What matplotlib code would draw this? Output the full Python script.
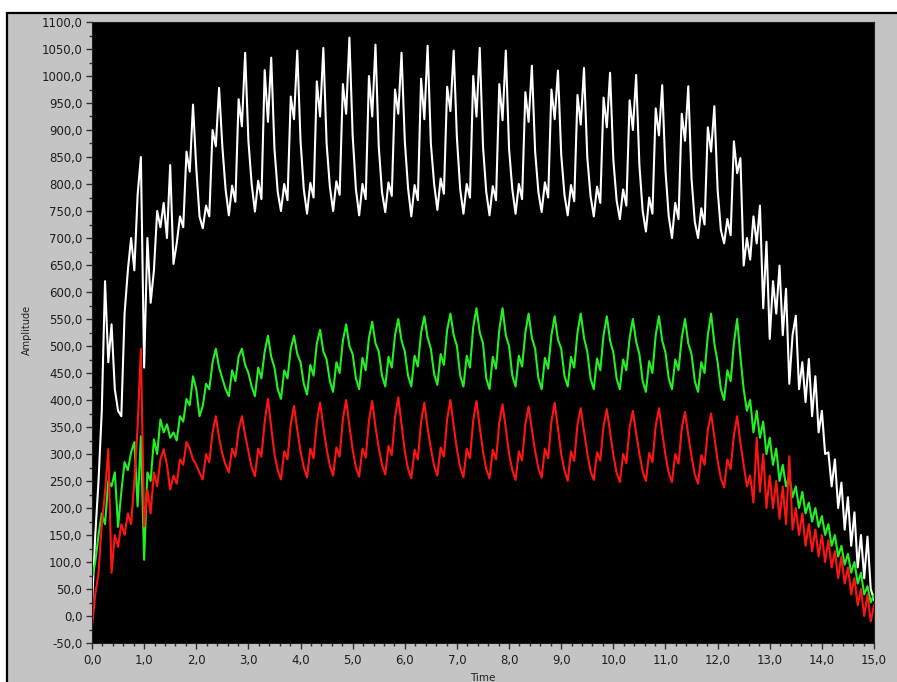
import numpy as np
import matplotlib
matplotlib.use('Agg')
import matplotlib.pyplot as plt
from matplotlib.patches import Rectangle
from matplotlib.ticker import MultipleLocator, FuncFormatter

# samples every 0.0625 s, one row = one 0.5 s cycle
time = np.linspace(0.0, 15.0, 241)

white = [
    20, 150, 250, 380, 620, 470, 540, 420,       # 0.0
    380, 370, 560, 640, 700, 640, 780, 850,      # 0.5
    460, 700, 580, 640, 750, 720, 765, 700,      # 1.0
    835, 652, 690, 740, 720, 860, 823, 947,      # 1.5
    830, 740, 718, 760, 740, 900, 870, 978,      # 2.0
    870, 790, 742, 797, 767, 957, 907, 1043,     # 2.5
    880, 800, 749, 806, 772, 1011, 915, 1034,    # 3.0
    865, 785, 750, 800, 770, 962, 920, 1047,     # 3.5
    880, 790, 745, 802, 775, 990, 925, 1052,     # 4.0
    875, 795, 750, 805, 780, 985, 930, 1071,     # 4.5
    890, 790, 742, 800, 772, 1000, 925, 1058,    # 5.0
    870, 785, 748, 803, 778, 975, 930, 1043,     # 5.5
    880, 792, 740, 798, 770, 995, 920, 1056,     # 6.0
    875, 800, 752, 810, 782, 980, 935, 1047,     # 6.5
    885, 790, 745, 800, 775, 1000, 925, 1052,    # 7.0
    870, 785, 742, 796, 770, 985, 918, 1047,     # 7.5
    865, 790, 745, 800, 772, 970, 915, 1019,     # 8.0
    860, 785, 748, 803, 775, 975, 920, 1010,     # 8.5
    855, 780, 742, 798, 768, 965, 910, 1015,     # 9.0
    850, 778, 740, 795, 765, 960, 905, 1006,     # 9.5
    845, 770, 735, 790, 760, 955, 900, 1002,     # 10.0
    835, 750, 712, 775, 745, 940, 890, 983,      # 10.5
    825, 740, 700, 765, 735, 930, 880, 981,      # 11.0
    810, 730, 700, 755, 725, 905, 860, 944,      # 11.5
    790, 715, 690, 735, 705, 879, 820, 848,      # 12.0
    649, 700, 660, 740, 690, 760, 570, 693,      # 12.5
    513, 620, 560, 649, 520, 606, 430, 520,      # 13.0
    556, 420, 470, 396, 476, 370, 444, 340,      # 13.5
    380, 300, 303, 240, 290, 200, 247, 160,      # 14.0
    220, 130, 192, 90, 150, 70, 147, 50,         # 14.5
    30,
]

green = [
    70, 100, 150, 190, 170, 250, 240, 266,
    165, 230, 285, 270, 303, 322, 203, 333,
    104, 266, 250, 327, 300, 364, 340, 355,
    330, 340, 325, 370, 360, 402, 390, 444,
    420, 370, 389, 430, 420, 470, 495, 460,
    440, 420, 407, 455, 435, 480, 495, 465,
    450, 425, 407, 460, 440, 490, 519, 480,
    460, 420, 402, 455, 440, 495, 519, 485,
    470, 430, 410, 465, 445, 505, 530, 490,
    475, 435, 415, 470, 450, 510, 540, 500,
    485, 440, 420, 478, 455, 515, 545, 505,
    490, 445, 425, 480, 460, 520, 550, 510,
    490, 445, 425, 482, 462, 525, 555, 515,
    495, 448, 428, 485, 465, 530, 560, 520,
    500, 445, 425, 482, 460, 535, 570, 525,
    505, 440, 420, 480, 458, 530, 570, 520,
    500, 445, 425, 482, 462, 525, 560, 515,
    495, 440, 420, 478, 458, 520, 555, 512,
    495, 445, 425, 480, 460, 525, 560, 515,
    490, 440, 420, 477, 455, 520, 555, 510,
    488, 440, 420, 475, 455, 515, 550, 508,
    485, 435, 415, 472, 450, 520, 555, 510,
    488, 440, 420, 475, 455, 515, 550, 505,
    485, 435, 415, 470, 450, 520, 560, 505,
    470, 420, 400, 455, 435, 505, 550, 480,
    420, 380, 400, 340, 380, 330, 360, 300,
    330, 280, 310, 250, 280, 240, 260, 220,
    240, 200, 230, 190, 210, 175, 200, 165,
    185, 150, 170, 130, 150, 110, 130, 95,
    115, 80, 100, 60, 80, 40, 55, 25,
    40,
]

red = [
    -20, 40, 80, 170, 230, 309, 80, 150,
    128, 170, 150, 190, 170, 250, 351, 495,
    166, 234, 190, 266, 240, 290, 309, 280,
    234, 260, 245, 290, 280, 322, 310, 290,
    280, 265, 253, 300, 285, 340, 370, 330,
    300, 280, 266, 310, 295, 345, 370, 335,
    305, 275, 259, 310, 295, 360, 402, 350,
    300, 270, 253, 305, 290, 355, 389, 345,
    305, 275, 257, 310, 292, 360, 395, 350,
    310, 278, 260, 312, 295, 365, 400, 352,
    308, 275, 258, 310, 293, 362, 398, 350,
    312, 280, 262, 315, 298, 368, 405, 355,
    305, 272, 255, 308, 290, 360, 395, 348,
    310, 278, 260, 312, 295, 365, 400, 352,
    308, 275, 257, 310, 292, 362, 398, 350,
    305, 272, 255, 308, 290, 358, 392, 347,
    300, 270, 252, 305, 288, 355, 388, 345,
    305, 274, 256, 310, 292, 360, 395, 348,
    300, 270, 250, 305, 287, 355, 385, 342,
    302, 268, 252, 303, 288, 352, 383, 340,
    298, 265, 248, 300, 283, 350, 380, 338,
    300, 268, 250, 302, 285, 352, 385, 340,
    298, 265, 248, 300, 282, 348, 378, 335,
    295, 262, 245, 298, 280, 345, 375, 332,
    288, 255, 238, 290, 272, 335, 370, 320,
    280, 240, 260, 210, 330, 230, 300, 200,
    260, 200, 250, 180, 240, 170, 296, 160,
    200, 150, 190, 130, 170, 120, 160, 110,
    150, 100, 140, 90, 120, 70, 110, 60,
    90, 40, 70, 20, 50, 0, 40, -10,
    20,
]

W, H = 897, 682
fig = plt.figure(figsize=(W / 100, H / 100), dpi=100)
fig.patch.set_facecolor('white')

# grey LabVIEW panel with black frame on top / left
panel = Rectangle((7 / W, -0.02), 1.05, (H - 13) / H + 0.02, transform=fig.transFigure,
                  facecolor='#c4c4c4', edgecolor='black', linewidth=1.6, zorder=-5)
fig.patches.append(panel)

ax = fig.add_axes([92 / W, 1 - 643 / H, (874 - 92) / W, (643 - 22) / H])
ax.set_facecolor('black')

ax.plot(time, white, color='white', lw=1.5)
ax.plot(time, green, color='#22f022', lw=1.5)
ax.plot(time, red, color='#ff1414', lw=1.5)

ax.set_xlim(0, 15)
ax.set_ylim(-50, 1100)

fmt = FuncFormatter(lambda v, p: f"{v:.1f}".replace('.', ','))
ax.xaxis.set_major_locator(MultipleLocator(1))
ax.xaxis.set_minor_locator(MultipleLocator(0.2))
ax.yaxis.set_major_locator(MultipleLocator(50))
ax.yaxis.set_minor_locator(MultipleLocator(25))
ax.xaxis.set_major_formatter(fmt)
ax.yaxis.set_major_formatter(fmt)

ax.tick_params(which='major', direction='out', length=4, width=1, color='#303030',
               labelsize=8.5, labelcolor='#1e1e1e')
ax.tick_params(which='minor', direction='out', length=2.5, width=1, color='#303030')
ax.tick_params(axis='x', which='major', pad=4)
ax.tick_params(axis='y', which='major', pad=3)

for s in ax.spines.values():
    s.set_color('#202020')

fig.text(27 / W, 1 - 330 / H, 'Amplitude', rotation=90, ha='center', va='center',
         fontsize=7, color='#222222')
fig.text(483 / W, 1 - 673 / H, 'Time', ha='center', va='top', fontsize=7.5, color='#222222')

fig.savefig('out.png', dpi=100, facecolor=fig.get_facecolor())
